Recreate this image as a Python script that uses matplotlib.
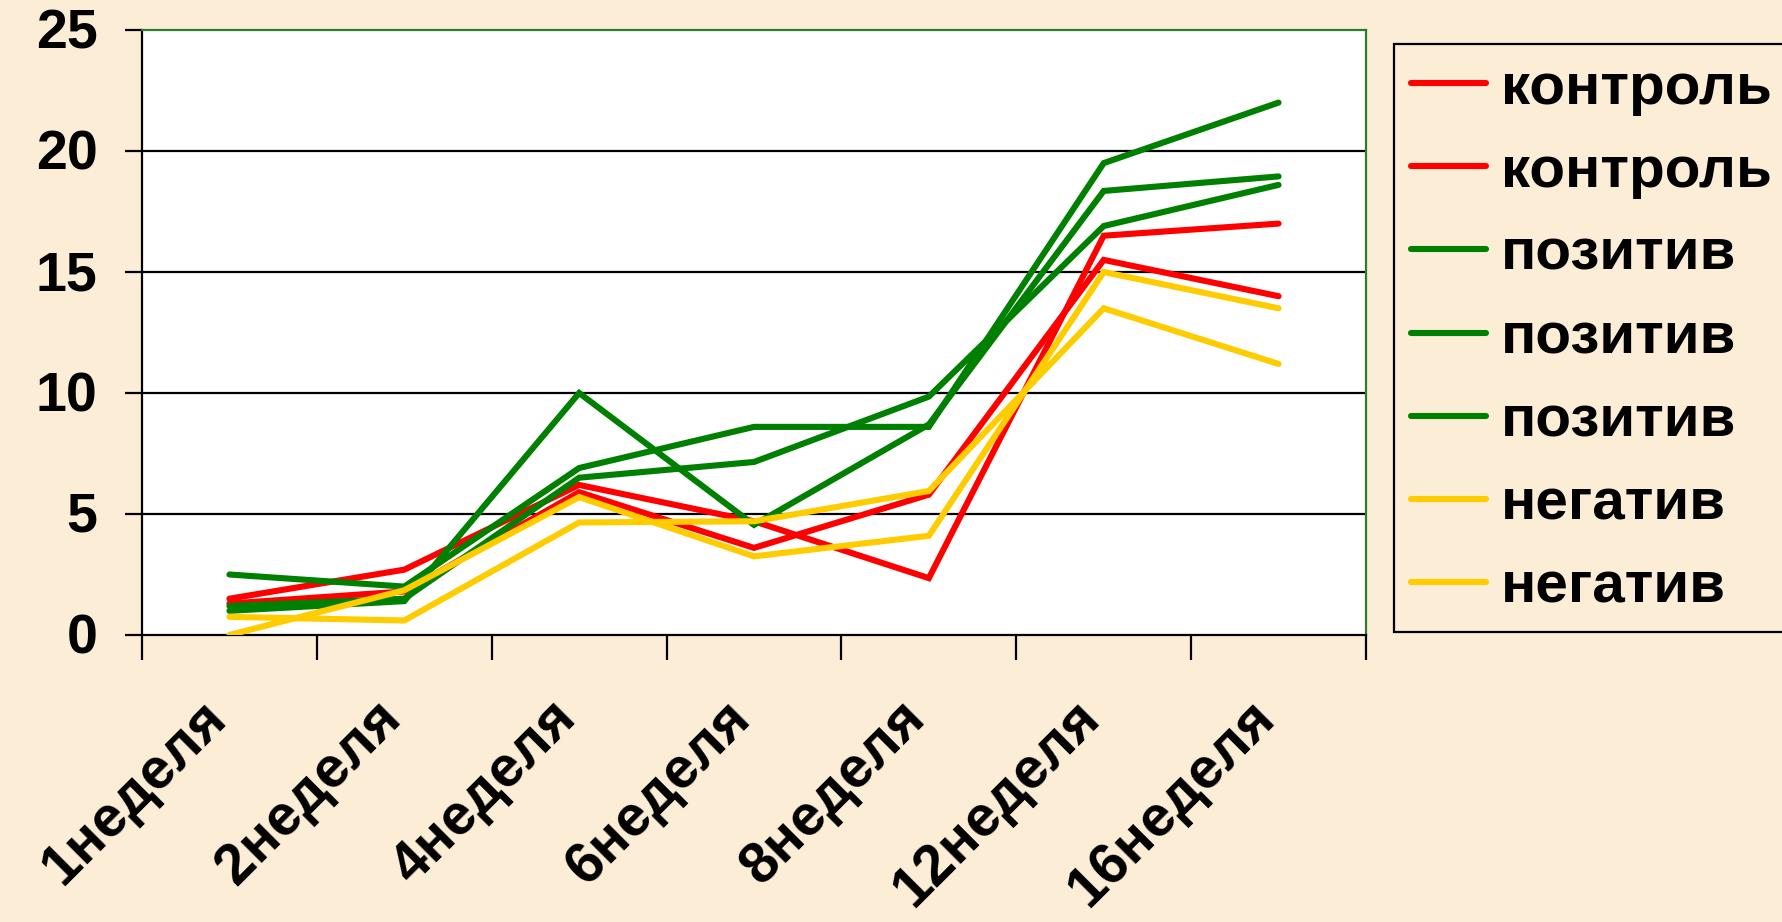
import matplotlib
matplotlib.use("Agg")
import matplotlib.pyplot as plt
from matplotlib.transforms import ScaledTranslation

# ---- data ----
categories = ['1неделя', '2неделя', '4неделя', '6неделя', '8неделя', '12неделя', '16неделя']
kontrol_1 = [1.5, 2.7, 6.2, 4.7, 2.35, 16.5, 17.0]
kontrol_2 = [1.3, 1.8, 5.9, 3.6, 5.8, 15.5, 14.0]
pozitiv_1 = [2.5, 2.0, 6.9, 8.6, 8.6, 19.5, 22.0]
pozitiv_2 = [1.0, 1.4, 10.0, 4.55, 8.7, 18.35, 18.95]
pozitiv_3 = [1.2, 1.5, 6.5, 7.15, 9.85, 16.9, 18.6]
negativ_1 = [0.75, 0.6, 4.65, 4.7, 5.95, 13.5, 11.2]
negativ_2 = [0.0, 1.85, 5.7, 3.25, 4.1, 15.0, 13.5]

series = [
    ('контроль', kontrol_1, '#FF0000'),
    ('контроль', kontrol_2, '#FF0000'),
    ('позитив', pozitiv_1, '#008000'),
    ('позитив', pozitiv_2, '#008000'),
    ('позитив', pozitiv_3, '#008000'),
    ('негатив', negativ_1, '#FFCC00'),
    ('негатив', negativ_2, '#FFCC00'),
]
yticks = [0, 5, 10, 15, 20, 25]

plt.rcParams['font.family'] = ['Liberation Sans', 'DejaVu Sans']
plt.rcParams['font.weight'] = 'bold'

W, H, DPI = 1783, 922, 100
bg = '#FCEDD6'
fig = plt.figure(figsize=(W / DPI, H / DPI), dpi=DPI, facecolor=bg)
ax = fig.add_axes([142 / W, 1 - 635 / H, (1366 - 142) / W, (635 - 30) / H])
ax.set_facecolor('white')

x = [i + 0.5 for i in range(len(categories))]
for name, vals, col in series:
    ax.plot(x, vals, color=col, lw=4.4, label=name, solid_capstyle='round',
            solid_joinstyle='miter', zorder=3)

ax.set_xlim(0, len(categories))
ax.set_ylim(0, 25)

# gridlines
for y in yticks[1:-1]:
    ax.axhline(y, color='black', lw=1.6, zorder=1)

# spines
for s in ['left', 'bottom']:
    ax.spines[s].set_color('black')
    ax.spines[s].set_linewidth(1.6)
for s in ['top', 'right']:
    ax.spines[s].set_color('#2E7D2E')
    ax.spines[s].set_linewidth(1.6)

# y ticks
ax.set_yticks(yticks)
ax.set_yticklabels([str(v) for v in yticks], fontsize=40, fontweight='bold')
ax.tick_params(axis='y', direction='out', length=12, width=1.6, pad=20, colors='black')
off_y = ScaledTranslation(0, 2 / DPI, fig.dpi_scale_trans)
for lbl in ax.get_yticklabels():
    lbl.set_transform(lbl.get_transform() + off_y)

# x ticks at category boundaries
ax.set_xticks(range(len(categories) + 1))
ax.set_xticklabels([])
ax.tick_params(axis='x', direction='out', length=18, width=1.6, colors='black')

# category labels rotated
lab_tr = ax.get_xaxis_transform() + ScaledTranslation(-12 / DPI, -74 / DPI, fig.dpi_scale_trans)
for xi, c in zip(x, categories):
    ax.text(xi, 0, c, transform=lab_tr, rotation=45, rotation_mode='anchor',
            ha='right', va='center', fontsize=41, fontweight='bold', color='black')

# legend
leg = ax.legend(loc='upper left', bbox_to_anchor=(1394 / W, 1 - 44 / H),
                bbox_transform=fig.transFigure, borderaxespad=0,
                prop={'size': 42, 'weight': 'bold'}, frameon=True, fancybox=False,
                handlelength=1.27, handletextpad=0.27, labelspacing=0.50,
                borderpad=0.30)
fr = leg.get_frame()
fr.set_edgecolor('black')
fr.set_linewidth(1.6)
fr.set_facecolor(bg)
fr.set_alpha(1)

fig.savefig('out.png', dpi=DPI, facecolor=bg)
